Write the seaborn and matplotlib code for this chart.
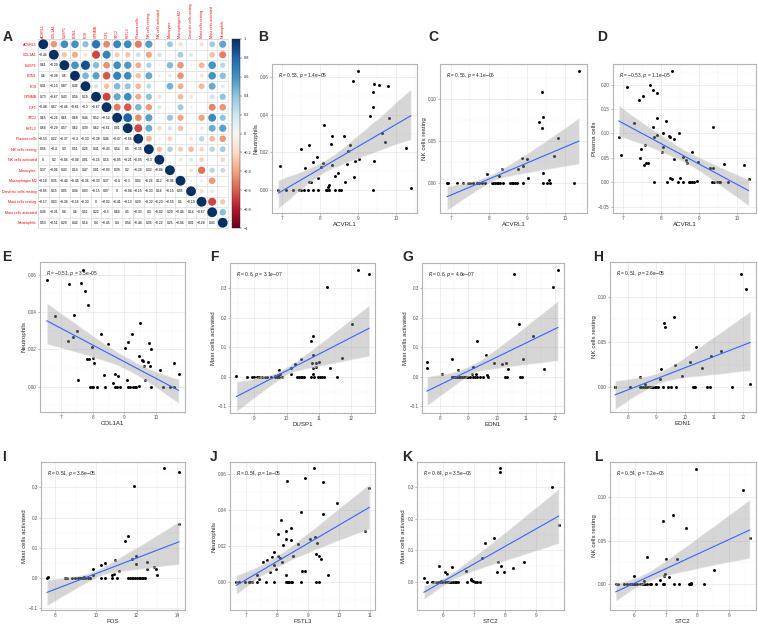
import numpy as np
import pandas as pd
import matplotlib
matplotlib.use("Agg")
import matplotlib.pyplot as plt
import seaborn as sns
from matplotlib.colors import Normalize
from matplotlib.cm import ScalarMappable
from matplotlib.collections import PolyCollection

# ---------------- panel A: correlation matrix ----------------
corr_labels = ["ACVRL1", "COL1A1", "DUSP1", "EDN1", "FOS", "GPNMB", "IGF1", "STC2", "FSTL3",
               "Plasma cells", "NK cells resting", "NK cells activated", "Monocytes",
               "Macrophages M2", "Dendritic cells resting", "Mast cells resting",
               "Mast cells activated", "Neutrophils"]
# lower triangle, row by row (row i holds correlations with columns 0..i-1)
corr_lower = [
    [-0.44],
    [0.61, -0.29],
    [0.6, -0.38, 0.6],
    [0.41, -0.15, 0.87, 0.46],
    [0.73, -0.67, 0.43, 0.54, 0.19],
    [-0.48, 0.67, -0.46, -0.61, -0.3, -0.67],
    [0.65, -0.26, 0.61, 0.68, 0.44, 0.52, -0.52],
    [0.64, -0.29, 0.57, 0.62, 0.39, 0.62, -0.61, 0.81],
    [-0.53, 0.22, -0.37, -0.3, -0.33, -0.38, 0.46, -0.47, -0.66],
    [0.56, -0.4, 0.3, 0.51, 0.26, 0.41, -0.43, 0.54, 0.5, -0.35],
    [0, 0.2, -0.04, -0.08, 0.01, -0.16, 0.16, -0.05, -0.21, -0.05, -0.3],
    [0.37, -0.06, 0.43, 0.14, 0.47, 0.01, -0.03, 0.39, 0.2, -0.24, 0.32, -0.04],
    [-0.18, 0.35, -0.44, -0.45, -0.36, -0.33, 0.37, -0.4, -0.3, 0.02, -0.26, 0.12, -0.06],
    [-0.05, 0.15, 0.05, 0.04, 0.03, -0.15, 0.07, 0, -0.04, -0.15, -0.33, 0.16, -0.15, 0.05],
    [-0.17, 0.03, -0.34, -0.16, -0.33, 0, -0.02, -0.41, -0.13, 0.29, -0.22, -0.23, -0.55, 0.1, -0.19],
    [0.36, -0.31, 0.6, 0.6, 0.51, 0.22, -0.5, 0.64, 0.5, -0.33, 0.3, -0.02, 0.29, -0.44, 0.14, -0.67],
    [0.53, -0.51, 0.29, 0.42, 0.14, 0.4, -0.45, 0.4, 0.54, -0.44, 0.35, -0.22, 0.25, -0.04, 0.01, -0.28, 0.43],
]
cbar_ticks = [-1, -0.8, -0.6, -0.4, -0.2, 0, 0.2, 0.4, 0.6, 0.8, 1]

# ---------------- scatter panels (x, y) ----------------
b_pts = [(9.01, 0.0635), (8.86, 0.058), (9.42, 0.0564), (9.39, 0.0524), (9.40, 0.0444), (9.32, 0.0393),
         (8.10, 0.0348), (8.32, 0.0288), (8.62, 0.0288), (8.28, 0.0245), (7.70, 0.0242), (7.51, 0.0217),
         (8.78, 0.0238), (8.73, 0.021), (7.93, 0.0174), (7.82, 0.0151), (6.95, 0.013), (7.60, 0.0119),
         (8.07, 0.0142), (8.04, 0.0124), (8.32, 0.0135), (8.72, 0.0139), (8.91, 0.0153), (9.03, 0.0164),
         (9.41, 0.0155), (8.48, 0.0089), (8.40, 0.0075), (8.90, 0.0069), (8.66, 0.0044), (7.95, 0.0064),
         (7.71, 0.0043), (7.77, 0.0043), (8.24, 0.0027), (8.22, 0.0018), (9.80, 0.0556), (9.82, 0.0386),
         (9.62, 0.0306), (9.72, 0.0256), (10.26, 0.0222), (10.39, 0.0009), (9.56, 0.056),
         (6.90, 0), (7.12, 0), (7.30, 0), (7.45, 0), (7.50, 0), (7.57, 0), (7.69, 0), (7.82, 0),
         (7.94, 0), (8.16, 0), (8.19, 0), (8.24, 0), (8.39, 0), (8.50, 0), (8.54, 0), (9.40, 0)]

c_pts = [(10.37, 0.134), (9.39, 0.109), (9.41, 0.079), (9.32, 0.0728), (9.40, 0.066), (9.82, 0.0536),
         (9.72, 0.032), (9.41, 0.012), (8.86, 0.0296), (9.00, 0.0288), (8.90, 0.02), (8.77, 0.016),
         (9.03, 0.0053), (9.59, 0.003), (7.94, 0.0104), (8.27, 0.0084), (8.33, 0.0168),
         (8.55, 0), (8.60, 0), (8.64, 0), (8.68, 0), (8.73, 0), (8.90, 0), (9.43, 0), (9.54, 0),
         (9.61, 0), (10.24, 0), (6.89, 0), (6.93, 0), (7.15, 0), (7.31, 0), (7.46, 0), (7.50, 0),
         (7.57, 0), (7.68, 0), (7.74, 0), (7.81, 0), (7.89, 0), (8.07, 0), (8.11, 0), (8.16, 0),
         (8.20, 0), (8.25, 0), (8.29, 0), (8.38, 0)]

d_pts = [(6.88, 0.0934), (7.11, 0.195), (6.93, 0.0566), (7.28, 0.121), (7.42, 0.169), (7.53, 0.177),
         (7.47, 0.0676), (7.57, 0.077), (7.44, 0.049), (7.55, 0.0355), (7.61, 0.039), (7.66, 0.040),
         (7.70, 0.20), (7.77, 0.189), (7.89, 0.182), (8.29, 0.228), (7.89, 0.131), (7.79, 0.114),
         (8.12, 0.126), (7.81, 0.092), (7.89, 0.097), (8.05, 0.100), (8.19, 0.095), (8.23, 0.092),
         (8.33, 0.088), (8.47, 0.100), (8.05, 0.072), (8.01, 0.0615), (8.33, 0.048), (8.23, 0.0094),
         (8.27, 0.006), (8.49, 0.0094), (8.57, 0.0525), (8.66, 0.0457), (8.68, 0.040), (8.82, 0.0627),
         (8.97, 0.042), (9.36, 0.114), (9.28, 0.0287), (9.35, 0.0287), (9.65, 0.037), (10.18, 0.035),
         (10.30, 0.006), (8.95, 0.003),
         (7.80, 0), (8.15, 0), (8.45, 0), (8.56, 0), (8.72, 0), (8.76, 0), (8.81, 0), (8.85, 0),
         (9.33, 0), (9.38, 0), (9.46, 0), (9.51, 0), (9.55, 0), (9.75, 0)]

e_pts = [(6.56, 0.0573), (7.69, 0.0626), (7.26, 0.0553), (7.63, 0.0558), (7.76, 0.0515), (7.85, 0.0437),
         (7.41, 0.0386), (6.83, 0.0379), (7.37, 0.0268), (7.52, 0.0298), (7.23, 0.0246), (8.25, 0.028),
         (8.48, 0.023), (7.97, 0.0214), (8.02, 0.0155), (8.04, 0.0125), (7.82, 0.0148), (7.89, 0.0148),
         (7.53, 0.0035), (8.36, 0.006), (8.70, 0.0067), (8.79, 0.0056), (8.65, 0.002), (9.02, 0.0207),
         (9.12, 0.0238), (9.23, 0.028), (9.49, 0.034), (9.45, 0.0166), (9.54, 0.0142), (9.57, 0.0135),
         (9.61, 0.0112), (9.74, 0.013), (9.80, 0.0112), (9.78, 0.0235), (9.83, 0.020), (9.64, 0.0035),
         (10.10, 0.0089), (10.57, 0.0126), (10.70, 0.0066), (9.09, 0.0035), (9.46, 0.0004),
         (7.92, 0), (7.97, 0), (8.02, 0), (8.13, 0), (8.39, 0), (8.70, 0), (8.76, 0), (8.86, 0),
         (9.12, 0), (9.17, 0), (9.28, 0), (9.33, 0), (9.36, 0), (9.82, 0), (10.22, 0), (10.43, 0), (10.55, 0)]

f_pts = [(8.45, 0.003), (12.2, 0.363), (12.55, 0.348), (11.24, 0.305), (12.01, 0.18), (10.74, 0.121),
         (10.80, 0.138), (11.72, 0.063), (10.45, 0.062), (10.80, 0.074), (10.77, 0.048), (10.91, 0.046),
         (11.01, 0.049), (10.91, 0.035), (10.82, 0.031), (11.34, 0.029), (10.82, 0.010), (10.26, 0.045),
         (10.15, 0.029), (10.12, 0.010), (9.77, 0.024), (9.81, 0.010), (9.72, 0.007), (9.64, 0.003),
         (8.76, 0), (8.92, 0), (9.00, 0), (9.07, 0), (9.14, 0), (9.23, 0), (9.33, 0), (9.38, 0),
         (9.52, 0), (9.64, 0), (9.69, 0), (9.77, 0), (9.85, 0), (10.33, 0), (10.38, 0), (10.44, 0),
         (10.49, 0), (10.55, 0), (10.74, 0), (10.86, 0), (10.98, 0), (11.03, 0), (11.09, 0), (11.16, 0),
         (11.55, 0)]

g_pts = [(7.56, 0.029), (7.58, 0.051), (8.08, 0.010), (8.43, 0.060), (8.62, 0.022), (9.31, 0.121),
         (9.60, 0.073), (9.15, 0.034), (9.11, 0.009), (9.26, 0.009), (9.63, 0.007), (9.90, 0.048),
         (10.15, 0.043), (10.30, 0.046), (10.36, 0.027), (10.76, 0.179), (10.59, 0.349), (10.90, 0.061),
         (11.25, 0.137), (11.62, 0.027), (11.93, 0.303), (12.10, 0.363),
         (8.43, 0), (8.48, 0), (8.54, 0), (8.60, 0), (8.66, 0), (8.71, 0), (8.77, 0), (8.83, 0),
         (8.89, 0), (8.94, 0), (9.00, 0), (9.06, 0), (9.15, 0), (9.23, 0), (9.31, 0), (9.40, 0),
         (9.51, 0), (9.67, 0), (10.26, 0), (10.32, 0), (10.78, 0), (10.86, 0)]

h_pts = [(7.56, 0.0), (7.58, 0.0), (8.08, 0.0), (8.43, 0.011), (8.62, 0.004), (9.31, 0.066),
         (9.60, 0.078), (9.15, 0.020), (9.11, 0.009), (9.26, 0.071), (9.63, 0.025), (9.90, 0.013),
         (10.15, 0.028), (10.30, 0.0), (10.36, 0.045), (10.76, 0.0), (10.59, 0.021), (10.90, 0.035),
         (11.25, 0.040), (11.62, 0.0), (11.93, 0.125), (12.10, 0.108), (12.25, 0.004),
         (8.43, 0), (8.48, 0), (8.54, 0), (8.60, 0), (8.66, 0), (8.71, 0), (8.77, 0), (8.83, 0),
         (8.89, 0), (8.94, 0), (9.00, 0), (9.06, 0), (9.23, 0), (9.40, 0), (9.51, 0), (9.67, 0),
         (10.26, 0), (10.32, 0), (10.86, 0)]

i_pts = [(7.59, 0), (7.64, 0.005), (13.33, 0.364), (14.06, 0.35), (11.86, 0.304), (14.08, 0.180),
         (11.43, 0.122), (11.58, 0.139), (11.76, 0.063), (11.97, 0.074), (11.97, 0.048), (12.52, 0.052),
         (12.49, 0.030), (12.87, 0.036), (12.95, 0.030), (12.98, 0.012), (10.95, 0.061), (11.13, 0.025),
         (10.87, 0.013), (10.79, 0.012), (10.43, 0.049), (10.23, 0.043), (9.86, 0.030), (9.86, 0.011),
         (9.42, 0.004), (9.29, 0.002),
         (8.49, 0), (8.57, 0), (8.82, 0), (8.98, 0), (9.10, 0), (9.23, 0), (9.36, 0), (9.47, 0),
         (9.59, 0), (9.72, 0), (10.26, 0), (10.46, 0), (10.78, 0), (11.03, 0), (11.55, 0), (11.68, 0),
         (11.76, 0), (11.84, 0), (11.93, 0), (12.01, 0), (12.09, 0), (12.17, 0), (12.25, 0), (12.33, 0),
         (12.42, 0)]

j_pts = [(6.69, 0), (6.78, 0), (6.96, 0), (7.09, 0), (7.14, 0), (7.19, 0), (7.36, 0), (7.36, 0.0038),
         (7.42, 0.002), (7.54, 0.0111), (7.68, 0.0124), (7.77, 0.0056), (7.84, 0.014), (7.90, 0.0167),
         (7.90, 0.0093), (7.96, 0.0071), (7.90, 0), (7.66, 0), (8.03, 0.0267), (8.03, 0.0144),
         (8.13, 0.0342), (8.10, 0.0135), (8.18, 0.0115), (8.20, 0.0204), (8.29, 0.0284), (8.29, 0.0238),
         (8.29, 0.0038), (8.45, 0.0233), (8.46, 0.0298), (8.53, 0.0147), (8.34, 0.056), (8.69, 0.0211),
         (8.79, 0.0389), (8.82, 0.0062), (8.90, 0.0065), (8.90, 0.0576), (8.77, 0), (9.20, 0.0633),
         (9.07, 0.0238), (9.22, 0.0253), (9.26, 0.0156), (9.29, 0.0218), (9.37, 0.0147), (9.42, 0.0129),
         (9.48, 0.038), (9.48, 0.0556), (9.94, 0.0438), (9.66, 0.0038), (9.26, 0), (9.37, 0),
         (10.84, 0.0284), (10.98, 0.052),
         (8.29, 0), (8.34, 0), (8.37, 0), (8.40, 0), (8.45, 0), (8.50, 0)]

k_pts = [(5.38, 0.0135), (5.49, 0), (5.63, 0), (5.68, 0), (5.76, 0), (5.84, 0), (5.89, 0), (5.95, 0),
         (6.05, 0), (6.11, 0), (6.16, 0), (6.21, 0), (6.27, 0), (6.32, 0), (6.37, 0), (6.43, 0), (6.48, 0),
         (5.86, 0.052), (5.92, 0.004), (6.05, 0.031), (6.11, 0.024), (6.30, 0.048), (6.73, 0.036),
         (6.77, 0), (6.89, 0.010), (6.91, 0.005), (6.97, 0.002), (7.02, 0), (7.08, 0), (7.20, 0),
         (7.24, 0.075), (7.36, 0.123), (7.64, 0.140), (7.76, 0.0625), (7.83, 0.36), (7.83, 0.347),
         (7.75, 0.031), (7.87, 0.052), (7.95, 0.031), (8.25, 0.046), (8.59, 0.065), (9.49, 0.302),
         (9.72, 0.180)]

l_pts = [(5.40, 0), (5.49, 0), (5.65, 0), (5.76, 0), (5.84, 0), (5.91, 0), (5.97, 0), (6.02, 0),
         (6.07, 0), (6.16, 0), (6.24, 0), (6.29, 0), (6.34, 0), (6.39, 0), (6.48, 0), (6.52, 0),
         (6.69, 0), (6.90, 0), (6.95, 0), (7.24, 0), (7.42, 0), (7.74, 0), (7.77, 0), (7.81, 0),
         (8.22, 0), (5.97, 0.0095), (6.29, 0.0038), (6.39, 0.0314), (6.80, 0.0049), (6.95, 0.0091),
         (6.98, 0.011), (7.01, 0.0288), (7.08, 0.0083), (7.21, 0.079), (6.90, 0.0723), (7.35, 0.0288),
         (7.63, 0.0648), (7.81, 0.0015), (7.94, 0.132), (8.54, 0.016), (9.45, 0.108), (9.66, 0.053)]

stat_text = {
    "B": ("0.53", "1.4e\u221205"), "C": ("0.56", "4.1e\u221206"), "D": ("\u22120.53", "1.1e\u221205"),
    "E": ("\u22120.51", "3.5e\u221205"), "F": ("0.6", "3.1e\u221207"), "G": ("0.6", "4.6e\u221207"),
    "H": ("0.51", "2.6e\u221205"), "I": ("0.51", "3.8e\u221205"), "J": ("0.54", "1e\u221205"),
    "K": ("0.64", "3.5e\u221208"), "L": ("0.54", "7.2e\u221206"),
}

sns.set_theme(style="white")
plt.rcParams['font.family'] = ['Liberation Sans', 'DejaVu Sans']

W, H = 758, 626
fig = plt.figure(figsize=(W / 100, H / 100), dpi=100)


def box(l, t, r, b):
    return [l / W, 1 - b / H, (r - l) / W, (b - t) / H]


def minus(s):
    return s.replace("-", "\u2212")


# ---------- panel A ----------
n = len(corr_labels)
mat = np.eye(n)
for i, row in enumerate(corr_lower):
    for j, v in enumerate(row):
        mat[i + 1, j] = v
        mat[j, i + 1] = v

cells = pd.DataFrame([(i, j, mat[i, j]) for i in range(n) for j in range(i, n)],
                     columns=["row", "col", "r"])
cells["size"] = cells["r"].abs()

axA = fig.add_axes(box(38, 39, 228, 228))
sns.scatterplot(data=cells, x="col", y="row", hue="r", size="size", palette="RdBu",
                hue_norm=(-1, 1), sizes=(0, 50), size_norm=(0, 1), legend=False,
                edgecolor="none", ax=axA, zorder=3)
for k in range(n + 1):
    axA.axhline(k - 0.5, color="#d4d4d4", lw=0.4, zorder=1)
    axA.axvline(k - 0.5, color="#d4d4d4", lw=0.4, zorder=1)
for i in range(1, n):
    for j in range(i):
        axA.text(j, i, minus(f"{mat[i, j]:g}"), ha="center", va="center", fontsize=2.4,
                 color="black", zorder=4)
axA.set_xlim(-0.5, n - 0.5)
axA.set_ylim(n - 0.5, -0.5)
axA.set_xticks(range(n))
axA.set_yticks(range(n))
axA.xaxis.tick_top()
axA.set_xticklabels(corr_labels, rotation=90, color="red", fontsize=2.6)
axA.set_yticklabels(corr_labels, color="red", fontsize=2.6)
axA.tick_params(length=0, pad=1)
axA.set_xlabel("")
axA.set_ylabel("")
for sp in axA.spines.values():
    sp.set_color("#d4d4d4")
    sp.set_linewidth(0.4)

cax = fig.add_axes(box(232, 39, 240, 228))
cb = fig.colorbar(ScalarMappable(norm=Normalize(-1, 1), cmap="RdBu"), cax=cax)
cb.set_ticks(cbar_ticks)
cb.set_ticklabels([minus(f"{t:g}") for t in cbar_ticks])
cb.ax.tick_params(labelsize=2.8, length=1.5, width=0.3, pad=1)
cb.outline.set_linewidth(0.3)

fig.text(3 / W, 1 - 37 / H, "A", fontsize=10, fontweight="bold", va="center")


# ---------- scatter panels ----------
def panel(letter, pts, frame, letter_xy, xlabel, ylabel, xlim, ylim, xticks, yticks, ydec):
    ax = fig.add_axes(box(*frame))
    x, y = zip(*pts)
    df = pd.DataFrame({xlabel: x, ylabel: y})
    sns.regplot(data=df, x=xlabel, y=ylabel, ax=ax, ci=95, seed=7, n_boot=1000,
                scatter_kws=dict(s=4.5, color="black", linewidths=0, alpha=1, zorder=2),
                line_kws=dict(color="#3366FF", lw=0.8, zorder=4))
    for c in ax.collections:
        if isinstance(c, PolyCollection):
            c.set_facecolor("#999999")
            c.set_alpha(0.4)
            c.set_zorder(3)
    ax.set_xlim(xlim)
    ax.set_ylim(ylim)
    ax.set_xticks(xticks)
    ax.set_yticks(yticks)
    xs = xticks[1] - xticks[0]
    ys = yticks[1] - yticks[0]
    ax.set_xticks([v for v in np.arange(xticks[0] - xs / 2, xlim[1], xs) if v > xlim[0]], minor=True)
    ax.set_yticks([v for v in np.arange(yticks[0] - ys / 2, ylim[1], ys) if v > ylim[0]], minor=True)
    ax.set_xticklabels([f"{v:g}" for v in xticks])
    ax.set_yticklabels([minus(f"{v:.{ydec}f}") for v in yticks])
    ax.grid(which="major", color="#EBEBEB", lw=0.6)
    ax.grid(which="minor", color="#F3F3F3", lw=0.35)
    ax.set_axisbelow(True)
    ax.tick_params(which="major", length=1.5, width=0.4, color="#888888", labelsize=3.3,
                   labelcolor="#4D4D4D", pad=0.8, left=True, bottom=True)
    ax.tick_params(which="minor", length=0)
    ax.set_xlabel(xlabel, fontsize=4.4, labelpad=0.6)
    ax.set_ylabel(ylabel, fontsize=4.4, labelpad=1.0)
    for sp in ax.spines.values():
        sp.set_color("#b3b3b3")
        sp.set_linewidth(0.8)
    r, p = stat_text[letter]
    ax.text(0.04, 0.925, f"$R$ = {r}, $p$ = {p}", transform=ax.transAxes, fontsize=3.5,
            va="center", ha="left", color="#222222")
    fig.text(letter_xy[0] / W, 1 - letter_xy[1] / H, letter, fontsize=10, fontweight="bold",
             va="center")
    return ax


acv_ticks = [7, 8, 9, 10]
panel("B", b_pts, (272, 64, 417, 213), (258, 37), "ACVRL1", "Neutrophils",
      (6.74, 10.55), (-0.0123, 0.0672), acv_ticks, [0, 0.02, 0.04, 0.06], 2)
panel("C", c_pts, (440, 64, 587, 213), (428, 37), "ACVRL1", "NK cells resting",
      (6.71, 10.58), (-0.0363, 0.1423), acv_ticks, [0, 0.05, 0.10], 2)
panel("D", d_pts, (613, 64, 756, 213), (597, 37), "ACVRL1", "Plasma cells",
      (6.73, 10.49), (-0.0629, 0.2424), acv_ticks, [-0.05, 0, 0.05, 0.10, 0.15, 0.20], 2)
panel("E", e_pts, (40, 262, 185, 412), (2, 257), "COL1A1", "Neutrophils",
      (6.35, 10.90), (-0.0137, 0.0669), acv_ticks, [0, 0.02, 0.04, 0.06], 2)
panel("F", f_pts, (230, 263, 375, 413), (210, 257), "DUSP1", "Mast cells activated",
      (8.25, 12.73), (-0.122, 0.385), [9, 10, 11, 12], [-0.1, 0, 0.1, 0.2, 0.3], 1)
panel("G", g_pts, (422, 263, 564, 413), (402, 257), "EDN1", "Mast cells activated",
      (7.39, 12.31), (-0.122, 0.385), [8, 9, 10, 11, 12], [-0.1, 0, 0.1, 0.2, 0.3], 1)
panel("H", h_pts, (610, 262, 756, 412), (593, 257), "EDN1", "NK cells resting",
      (7.39, 12.45), (-0.027, 0.138), [8, 9, 10, 11, 12], [0, 0.05, 0.10], 2)
panel("I", i_pts, (41, 462, 185, 610), (2, 457), "FOS", "Mast cells activated",
      (7.30, 14.37), (-0.105, 0.384), [8, 10, 12, 14], [-0.1, 0, 0.1, 0.2, 0.3], 1)
panel("J", j_pts, (230, 462, 375, 610), (210, 457), "FSTL3", "Neutrophils",
      (6.49, 11.16), (-0.0153, 0.0665), [7, 8, 9, 10, 11], [0, 0.02, 0.04, 0.06], 2)
panel("K", k_pts, (417, 462, 564, 610), (402, 457), "STC2", "Mast cells activated",
      (5.16, 9.89), (-0.0885, 0.380), [6, 7, 8, 9], [0, 0.1, 0.2, 0.3], 1)
panel("L", l_pts, (610, 462, 756, 610), (594, 457), "STC2", "NK cells resting",
      (5.22, 9.86), (-0.030, 0.1405), [6, 7, 8, 9], [0, 0.05, 0.10], 2)

fig.savefig("out.png", dpi=100)
